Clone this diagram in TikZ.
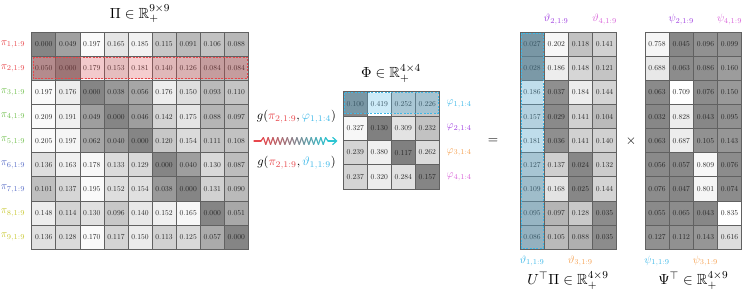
\documentclass[tikz,border=0pt]{standalone}
\usepackage{amsmath,amssymb,graphicx}
\usetikzlibrary{calc,arrows.meta}
\definecolor{cred}{HTML}{E8474C}
\definecolor{cgreen}{HTML}{72C050}
\definecolor{cblue}{HTML}{5B6FC8}
\definecolor{cyellow}{HTML}{C8C832}
\definecolor{ccyan}{HTML}{3DB8E8}
\definecolor{cturq}{HTML}{2CC5D2}
\definecolor{cfill}{HTML}{5BBDEB}
\definecolor{cpurple}{HTML}{A040E0}
\definecolor{corange}{HTML}{F5A050}
\definecolor{cpink}{HTML}{D860D8}
\newcommand{\cellnum}[1]{\scalebox{0.57}{#1}}
\newcommand{\labtxt}[1]{\scalebox{0.8}{#1}}
\begin{document}
\begin{tikzpicture}[x=0.75pt,y=-0.75pt,
  cell/.style={draw=black!62,line width=0.5pt,minimum width=18.05pt,minimum height=18.06pt,inner sep=0pt,text=black!85},
  phicell/.style={cell,minimum width=18pt,minimum height=18.25pt},
  ucell/.style={cell,minimum width=18.13pt},
  lab/.style={inner sep=0pt},
  ttl/.style={font=\fontsize{11}{13}\selectfont,inner sep=0pt},
  hlred/.style={draw=cred,line width=0.5pt,dash pattern=on 1.5pt off 1pt,fill=cred,fill opacity=0.25},
  hlcyan/.style={draw=ccyan,line width=0.5pt,dash pattern=on 1.5pt off 1pt,fill=cfill,fill opacity=0.3},
  zzline/.style={line width=0.9pt,line cap=round,line join=round}
]
\useasboundingbox (0,0) rectangle (747,306);

% ---------- Pi matrix ----------
\foreach \row [count=\i] in {
 {0.000,0.049,0.197,0.165,0.185,0.115,0.091,0.106,0.088},
 {0.050,0.000,0.179,0.153,0.181,0.140,0.126,0.084,0.084},
 {0.197,0.176,0.000,0.038,0.056,0.176,0.150,0.093,0.110},
 {0.209,0.191,0.049,0.000,0.046,0.142,0.175,0.088,0.097},
 {0.205,0.197,0.062,0.040,0.000,0.120,0.154,0.111,0.108},
 {0.136,0.163,0.178,0.133,0.129,0.000,0.040,0.130,0.087},
 {0.101,0.137,0.195,0.152,0.154,0.038,0.000,0.131,0.090},
 {0.148,0.114,0.130,0.096,0.140,0.152,0.165,0.000,0.051},
 {0.136,0.128,0.170,0.117,0.150,0.113,0.125,0.057,0.000}} {
  \pgfmathsetmacro\rmax{{0.197,0.181,0.197,0.209,0.205,0.178,0.195,0.165,0.170}[\i-1]}
  \foreach \v [count=\j] in \row {
    \pgfmathtruncatemacro\g{52+46*\v/\rmax}
    \node[cell,fill=white!\g!black] (p-\i-\j) at ({31.7+24.07*(\j-0.5)},{32.3+24.08*(\i-0.5)}) {\cellnum{\v}};
  }
}
\draw[hlred] ($(p-2-1.north west)+(1.5,1.2)$) rectangle ($(p-2-9.south east)+(-1.5,-2)$);

\foreach \c [count=\i] in {cred,cred,cgreen,cgreen,cgreen,cblue,cblue,cyellow,cyellow}
  \node[lab,text=\c,anchor=east] (lp\i) at ([xshift=-4.5pt]p-\i-1.west) {\labtxt{$\pi_{\i,1:9}$}};

\node[ttl] (tPi) at (140,14) {$\Pi\in\mathbb{R}^{9\times 9}_{+}$};

% ---------- Phi matrix ----------
\foreach \row [count=\i] in {
 {0.100/53,0.419/100,0.252/80,0.226/78},
 {0.327/97,0.130/50,0.309/89,0.232/76},
 {0.239/83,0.380/94,0.117/50,0.262/86},
 {0.237/83,0.320/93,0.284/88,0.157/52}} {
  \foreach \v/\g [count=\j] in \row {
    \node[phicell,fill=white!\g!black] (f-\i-\j) at ({343.3+24*(\j-0.5)},{91.7+24.33*(\i-0.5)}) {\cellnum{\v}};
  }
}
\draw[hlcyan] ($(f-1-1.north west)+(1.5,1.2)$) rectangle ($(f-1-4.south east)+(-1.5,-3)$);

\foreach \c [count=\i] in {ccyan,cpurple,corange,cpink}
  \node[lab,text=\c,anchor=west] (lf\i) at ([xshift=5pt]f-\i-4.east) {\labtxt{$\varphi_{\i,1:4}$}};

\node[ttl] (tPhi) at (391,73.5) {$\Phi\in\mathbb{R}^{4\times 4}_{+}$};

% ---------- zigzag arrow ----------
\coordinate (zzL) at (254,141);
\coordinate (zzA) at (261,141);
\coordinate (zzB) at (328,141);
\coordinate (zzR) at (337.5,141);
\draw[zzline,cred] (zzL) -- (zzA);
\foreach \k in {1,...,28} {
  \pgfmathsetmacro\xa{261+(\k-1)*67/28}
  \pgfmathsetmacro\xb{261+\k*67/28}
  \pgfmathsetmacro\ya{ifthenelse(\k-1==0,0,ifthenelse(mod(\k-1,2)==1,-3.4,3.4))}
  \pgfmathsetmacro\yb{ifthenelse(\k==28,0,ifthenelse(mod(\k,2)==1,-3.4,3.4))}
  \pgfmathtruncatemacro\pct{100*(\k-0.5)/28}
  \draw[zzline,color=cturq!\pct!cred] (\xa,141+\ya) -- (\xb,141+\yb);
}
\draw[zzline,cturq,-{Straight Barb[length=3pt,width=5.5pt]}] (zzB) -- (zzR);

\node[inner sep=0pt] (g1) at (296.5,117) {\scalebox{0.93}{$g(\textcolor{cred}{\pi_{2,1:9}},\textcolor{ccyan}{\varphi_{1,1:4}})$}};
\node[inner sep=0pt] (g2) at (296.5,163) {\scalebox{0.93}{$g(\textcolor{cred}{\pi_{2,1:9}},\textcolor{ccyan}{\vartheta_{1,1:9}})$}};

\node[inner sep=0pt] (eq) at (493,141) {$=$};

% ---------- U^T Pi ----------
\foreach \row [count=\i] in {
 {0.027,0.202,0.118,0.141},
 {0.028,0.186,0.148,0.121},
 {0.186,0.037,0.184,0.144},
 {0.157,0.029,0.141,0.104},
 {0.181,0.036,0.141,0.140},
 {0.127,0.137,0.024,0.132},
 {0.109,0.168,0.025,0.144},
 {0.095,0.097,0.128,0.035},
 {0.086,0.105,0.088,0.035}} {
  \foreach \v [count=\j] in \row {
    \pgfmathtruncatemacro\g{53+45*(\v-0.024)/0.178}
    \node[ucell,fill=white!\g!black] (u-\i-\j) at ({520+24.17*(\j-0.5)},{32.3+24.08*(\i-0.5)}) {\cellnum{\v}};
  }
}
\draw[hlcyan] ($(u-1-1.north west)+(1.5,1)$) rectangle ($(u-9-1.south east)+(-1.5,-1.5)$);

\node[lab,text=cpurple] (lu2) at ($(u-1-2.north)+(0,-12.5)$) {\labtxt{$\vartheta_{2,1:9}$}};
\node[lab,text=cpink] (lu4) at ($(u-1-4.north)+(0,-12.5)$) {\labtxt{$\vartheta_{4,1:9}$}};
\node[lab,text=ccyan] (lu1) at ($(u-9-1.south)+(0,11.5)$) {\labtxt{$\vartheta_{1,1:9}$}};
\node[lab,text=corange] (lu3) at ($(u-9-3.south)+(0,11.5)$) {\labtxt{$\vartheta_{3,1:9}$}};

\node[ttl] (tU) at (568,280.5) {$U^{\top}\Pi\in\mathbb{R}^{4\times 9}_{+}$};

\node[inner sep=0pt] (times) at (631,141) {$\times$};

% ---------- Psi^T ----------
\foreach \row [count=\i] in {
 {0.758/96,0.045/53,0.096/57,0.099/58},
 {0.688/91,0.063/55,0.086/56,0.160/61},
 {0.063/54,0.709/100,0.076/55,0.150/60},
 {0.032/53,0.828/93,0.043/53,0.095/57},
 {0.063/54,0.687/93,0.105/57,0.143/59},
 {0.056/54,0.057/54,0.809/97,0.076/55},
 {0.076/55,0.047/53,0.801/96,0.074/55},
 {0.055/54,0.065/55,0.043/53,0.835/100},
 {0.127/57,0.112/57,0.143/59,0.616/87}} {
  \foreach \v/\g [count=\j] in \row {
    \node[ucell,fill=white!\g!black] (s-\i-\j) at ({645+24.17*(\j-0.5)},{32.3+24.08*(\i-0.5)}) {\cellnum{\v}};
  }
}

\node[lab,text=cpurple] (ls2) at ($(s-1-2.north)+(0,-12.5)$) {\labtxt{$\psi_{2,1:9}$}};
\node[lab,text=cpink] (ls4) at ($(s-1-4.north)+(0,-12.5)$) {\labtxt{$\psi_{4,1:9}$}};
\node[lab,text=ccyan] (ls1) at ($(s-9-1.south)+(0,11.5)$) {\labtxt{$\psi_{1,1:9}$}};
\node[lab,text=corange] (ls3) at ($(s-9-3.south)+(0,11.5)$) {\labtxt{$\psi_{3,1:9}$}};

\node[ttl] (tS) at (693.3,280.5) {$\Psi^{\top}\in\mathbb{R}^{4\times 9}_{+}$};
\end{tikzpicture}
\end{document}
